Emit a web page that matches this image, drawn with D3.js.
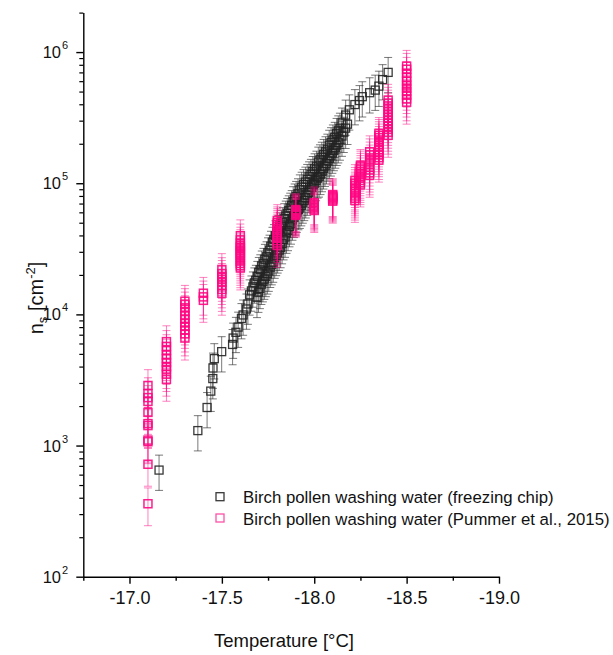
<!DOCTYPE html>
<html>
<head>
<meta charset="utf-8">
<script src="https://cdn.jsdelivr.net/npm/d3@7"></script>
<style>
  body { margin: 0; background: #fff; }
  svg { display: block; font-family: "Liberation Sans", Arial, sans-serif; }
</style>
</head>
<body>
<svg id="chart" width="613" height="655"></svg>
<script>
// ---- Freezing chip: sparse low-temperature droplets ----
const chipLowTemp = [-17.16, -17.37, -17.42, -17.44, -17.451, -17.452, -17.459, -17.499,
                     -17.558, -17.561, -17.576, -17.588, -17.606, -17.615, -17.633, -17.641];
const chipLowNs   = [650, 1300, 1950, 2600, 3240, 3900, 4600, 5200,
                     5900, 6600, 7300, 8000, 9300, 9900, 11000, 12000];

// ---- Freezing chip: run A ----
const chipRunATemp = [
  -17.650, -17.660, -17.668, -17.676, -17.684, -17.692, -17.700, -17.708, -17.716, -17.725,
  -17.733, -17.742, -17.750, -17.758, -17.766, -17.774, -17.782, -17.790, -17.798, -17.806,
  -17.814, -17.822, -17.830, -17.838, -17.846, -17.854, -17.862, -17.870, -17.878, -17.886,
  -17.894, -17.902, -17.912, -17.922, -17.932, -17.942, -17.952, -17.962, -17.972, -17.982,
  -17.992, -18.002, -18.012, -18.022, -18.031, -18.041, -18.051, -18.061, -18.071, -18.081,
  -18.091, -18.101, -18.111, -18.121, -18.130, -18.139, -18.150, -18.170, -18.190, -18.220,
  -18.245, -18.260, -18.300, -18.330, -18.350, -18.370, -18.400];
const chipRunANs = [
  14100, 15100, 16200, 17400, 18200, 19500, 20900, 21900, 23400, 24500,
  26300, 27500, 29500, 30900, 33100, 35500, 37200, 39800, 41700, 43700,
  45700, 47900, 50100, 53700, 56200, 58900, 61700, 64600, 67600, 72400,
  75900, 79400, 83200, 89100, 93300, 97700, 102000, 107000, 112000, 117000,
  123000, 129000, 135000, 145000, 151000, 158000, 166000, 174000, 182000, 195000,
  204000, 214000, 224000, 240000, 251000, 263000, 288000, 331000, 363000, 398000,
  427000, 457000, 490000, 513000, 550000, 617000, 700000];

// ---- Freezing chip: run B ----
const chipRunBTemp = [
  -17.690, -17.698, -17.706, -17.714, -17.722, -17.730, -17.738, -17.746, -17.754, -17.762,
  -17.770, -17.778, -17.786, -17.794, -17.802, -17.810, -17.818, -17.826, -17.834, -17.842,
  -17.850, -17.858, -17.866, -17.874, -17.882, -17.890, -17.898, -17.906, -17.914, -17.922,
  -17.930, -17.938, -17.946, -17.954, -17.962, -17.970, -17.978, -17.986, -17.994, -18.002,
  -18.010, -18.018, -18.026, -18.034, -18.042, -18.050, -18.058, -18.066, -18.074, -18.082,
  -18.090, -18.098, -18.106, -18.114, -18.122, -18.130, -18.139, -18.150, -18.160, -18.170,
  -18.180];
const chipRunBNs = [
  13500, 14800, 15800, 17000, 17800, 18600, 19500, 20400, 21400, 22900,
  24000, 25100, 26900, 28200, 29500, 30900, 32400, 34700, 37200, 38900,
  41700, 43700, 46800, 49000, 52500, 55000, 57500, 60300, 63100, 64600,
  67600, 70800, 74100, 77600, 81300, 85100, 89100, 93300, 97700, 100000,
  105000, 110000, 112000, 117000, 123000, 129000, 135000, 141000, 148000, 155000,
  162000, 170000, 178000, 186000, 195000, 204000, 214000, 229000, 245000, 263000,
  282000];

// ---- Pummer et al. (2015): one column of values per temperature ----
const pummerTemp = [-17.1, -17.2, -17.3, -17.4, -17.5, -17.6, -17.8, -17.9,
                    -18.0, -18.1, -18.22, -18.25, -18.3, -18.35, -18.4, -18.5];
const pummerNs = [
  [360, 720, 1070, 1100, 1420, 1470, 1790, 2170, 2320, 2490, 2870],
  [3200, 3500, 3800, 4000, 4300, 4600, 4900, 5300, 5700, 6200],
  [6600, 7100, 7600, 8100, 8600, 9200, 9800, 10500, 11200, 11900, 12600],
  [12800, 13600, 14500],
  [14500, 15500, 16500, 17500, 18500, 19500, 20500, 22000],
  [22600, 23500, 24500, 25500, 26500, 27500, 28500, 29500, 30500, 31500, 32500, 33500, 35000, 37000, 39800],
  [33600, 35000, 36500, 38000, 39500, 41000, 42500, 44000, 45500, 47000, 48500, 50000, 52000],
  [57000, 58000, 59000, 60000, 61000, 62000, 63000],
  [62000, 63500, 65000, 66500, 68000, 69500, 71000],
  [73000, 74500, 76000, 77500, 79000, 80500, 82000],
  [74000, 77000, 80000, 83000, 86000, 89000, 92000, 96000, 100000, 105000],
  [97000, 101000, 105000, 109000, 113000, 118000, 123000, 128000, 133000, 137000],
  [115000, 120000, 126000, 132000, 140000, 148000, 156000, 165000, 174000],
  [150000, 157000, 165000, 172000, 180000, 188000, 196000, 205000, 214000, 223000, 232000, 240000],
  [232000, 245000, 258000, 272000, 286000, 300000, 316000, 332000, 350000, 368000, 388000, 408000, 430000],
  [415000, 440000, 470000, 500000, 530000, 560000, 600000, 640000, 690000, 740000, 780000]
];

// relative uncertainty of each ns value
const chipRelErr = 0.3;
const pummerRelErr = 0.32;

const xMajorTicks = [-17.0, -17.5, -18.0, -18.5, -19.0];
const xMinorTicks = [-16.75, -17.25, -17.75, -18.25, -18.75];
const yMajorExps = [2, 3, 4, 5, 6];

const legendLabels = [
  "Birch pollen washing water (freezing chip)",
  "Birch pollen washing water (Pummer et al., 2015)"
];

// ---- drawing ----
const svg = d3.select("#chart");
const x = d3.scaleLinear().domain([-16.75, -19.0]).range([83.3, 499]);
const y = d3.scaleLog().domain([100, 2e6]).range([576.7, 12.6]);

const chipColor = "#222222";
const pinkColor = "#ff0582";
const SQ = 8;   // marker side
const CAP = 8;  // error-bar cap width

function zipPoints(ts, vs) { return ts.map((t, i) => ({ t, v: vs[i] })); }

const chipPoints = [
  ...zipPoints(chipLowTemp, chipLowNs),
  ...zipPoints(chipRunATemp, chipRunANs),
  ...zipPoints(chipRunBTemp, chipRunBNs)
];
const pummerPoints = pummerTemp.flatMap((t, i) => pummerNs[i].map(v => ({ t, v })));

function drawSeries(points, relErr, color, errOpacity, sqOpacity, sqWidth, cls) {
  const g = svg.append("g").attr("class", cls);
  const eb = g.append("g").attr("stroke", color).attr("stroke-opacity", errOpacity)
    .attr("stroke-width", 1).attr("fill", "none");
  points.forEach(p => {
    const cx = x(p.t);
    const yt = y(p.v * (1 + relErr));
    const yb = y(p.v * (1 - relErr));
    eb.append("line").attr("x1", cx).attr("x2", cx).attr("y1", yt).attr("y2", yb);
    eb.append("line").attr("x1", cx - CAP / 2).attr("x2", cx + CAP / 2).attr("y1", yt).attr("y2", yt);
    eb.append("line").attr("x1", cx - CAP / 2).attr("x2", cx + CAP / 2).attr("y1", yb).attr("y2", yb);
  });
  g.append("g").selectAll("rect").data(points).join("rect")
    .attr("x", d => x(d.t) - SQ / 2)
    .attr("y", d => y(d.v) - SQ / 2)
    .attr("width", SQ).attr("height", SQ)
    .attr("fill", "none")
    .attr("stroke", color)
    .attr("stroke-opacity", sqOpacity)
    .attr("stroke-width", sqWidth);
}

drawSeries(chipPoints, chipRelErr, chipColor, 0.6, 0.9, 1.3, "chip");
drawSeries(pummerPoints, pummerRelErr, pinkColor, 0.5, 0.9, 1.5, "pummer");

// ---- axes ----
const xAxisY = y(100);

const gx = svg.append("g").attr("transform", `translate(0,${xAxisY})`)
  .call(d3.axisBottom(x).tickValues(xMajorTicks).tickSize(7).tickSizeOuter(0)
        .tickFormat(d => d.toFixed(1)));
gx.select(".domain").attr("stroke-width", 1.4);
gx.selectAll(".tick line").attr("stroke-width", 1.4);
gx.selectAll(".tick text").attr("font-size", 18).attr("dy", "0.95em")
  .attr("font-family", "Liberation Sans, Arial, sans-serif").attr("fill", "#111");

const gxm = svg.append("g").attr("transform", `translate(0,${xAxisY})`)
  .call(d3.axisBottom(x).tickValues(xMinorTicks).tickSize(4).tickFormat(""));
gxm.select(".domain").remove();
gxm.selectAll(".tick line").attr("stroke-width", 1.4);

const gy = svg.append("g").attr("transform", `translate(${x(-16.75)},0)`)
  .call(d3.axisLeft(y).tickValues(yMajorExps.map(e => Math.pow(10, e)))
        .tickSize(7).tickSizeOuter(0).tickFormat(""));
gy.select(".domain").attr("stroke-width", 1.4);
gy.selectAll(".tick line").attr("stroke-width", 1.4);

const yMinor = [];
for (let e = 2; e <= 5; e++) for (let m = 2; m <= 9; m++) yMinor.push(m * Math.pow(10, e));
yMinor.push(2e6);
const gym = svg.append("g").attr("transform", `translate(${x(-16.75)},0)`)
  .call(d3.axisLeft(y).tickValues(yMinor).tickSize(4).tickFormat(""));
gym.select(".domain").remove();
gym.selectAll(".tick line").attr("stroke-width", 1.2);

// y tick labels 10^n
yMajorExps.forEach(e => {
  svg.append("text")
    .attr("x", 61).attr("y", y(Math.pow(10, e)) + 6)
    .attr("text-anchor", "end").attr("font-size", 16.5).attr("fill", "#111")
    .text("10");
  svg.append("text")
    .attr("x", 62).attr("y", y(Math.pow(10, e)) - 3)
    .attr("font-size", 11).attr("fill", "#111").text(e);
});

// axis titles
svg.append("text")
  .attr("x", 284).attr("y", 647)
  .attr("text-anchor", "middle").attr("font-size", 18.5).attr("fill", "#111")
  .text("Temperature [°C]");

const yTitle = svg.append("text")
  .attr("transform", "translate(43,298) rotate(-90)")
  .attr("text-anchor", "middle").attr("font-size", 20).attr("fill", "#111");
yTitle.append("tspan").text("n");
yTitle.append("tspan").attr("font-size", 13).attr("dy", 4).text("s");
yTitle.append("tspan").attr("dy", -4).text(" [cm");
yTitle.append("tspan").attr("font-size", 13).attr("dy", -8).text("-2");
yTitle.append("tspan").attr("dy", 8).text("]");

// legend
const legend = svg.append("g");
[[chipColor, 0.9], [pinkColor, 0.7]].forEach(([c, op], i) => {
  const cy = 496.7 + i * 21.3;
  legend.append("rect").attr("x", 216).attr("y", cy - 4).attr("width", 8).attr("height", 8)
    .attr("fill", "none").attr("stroke", c).attr("stroke-opacity", op).attr("stroke-width", 1.3);
  legend.append("text").attr("x", 243).attr("y", cy + 6.5)
    .attr("font-size", 16.8).attr("fill", "#111").text(legendLabels[i]);
});
</script>
</body>
</html>
